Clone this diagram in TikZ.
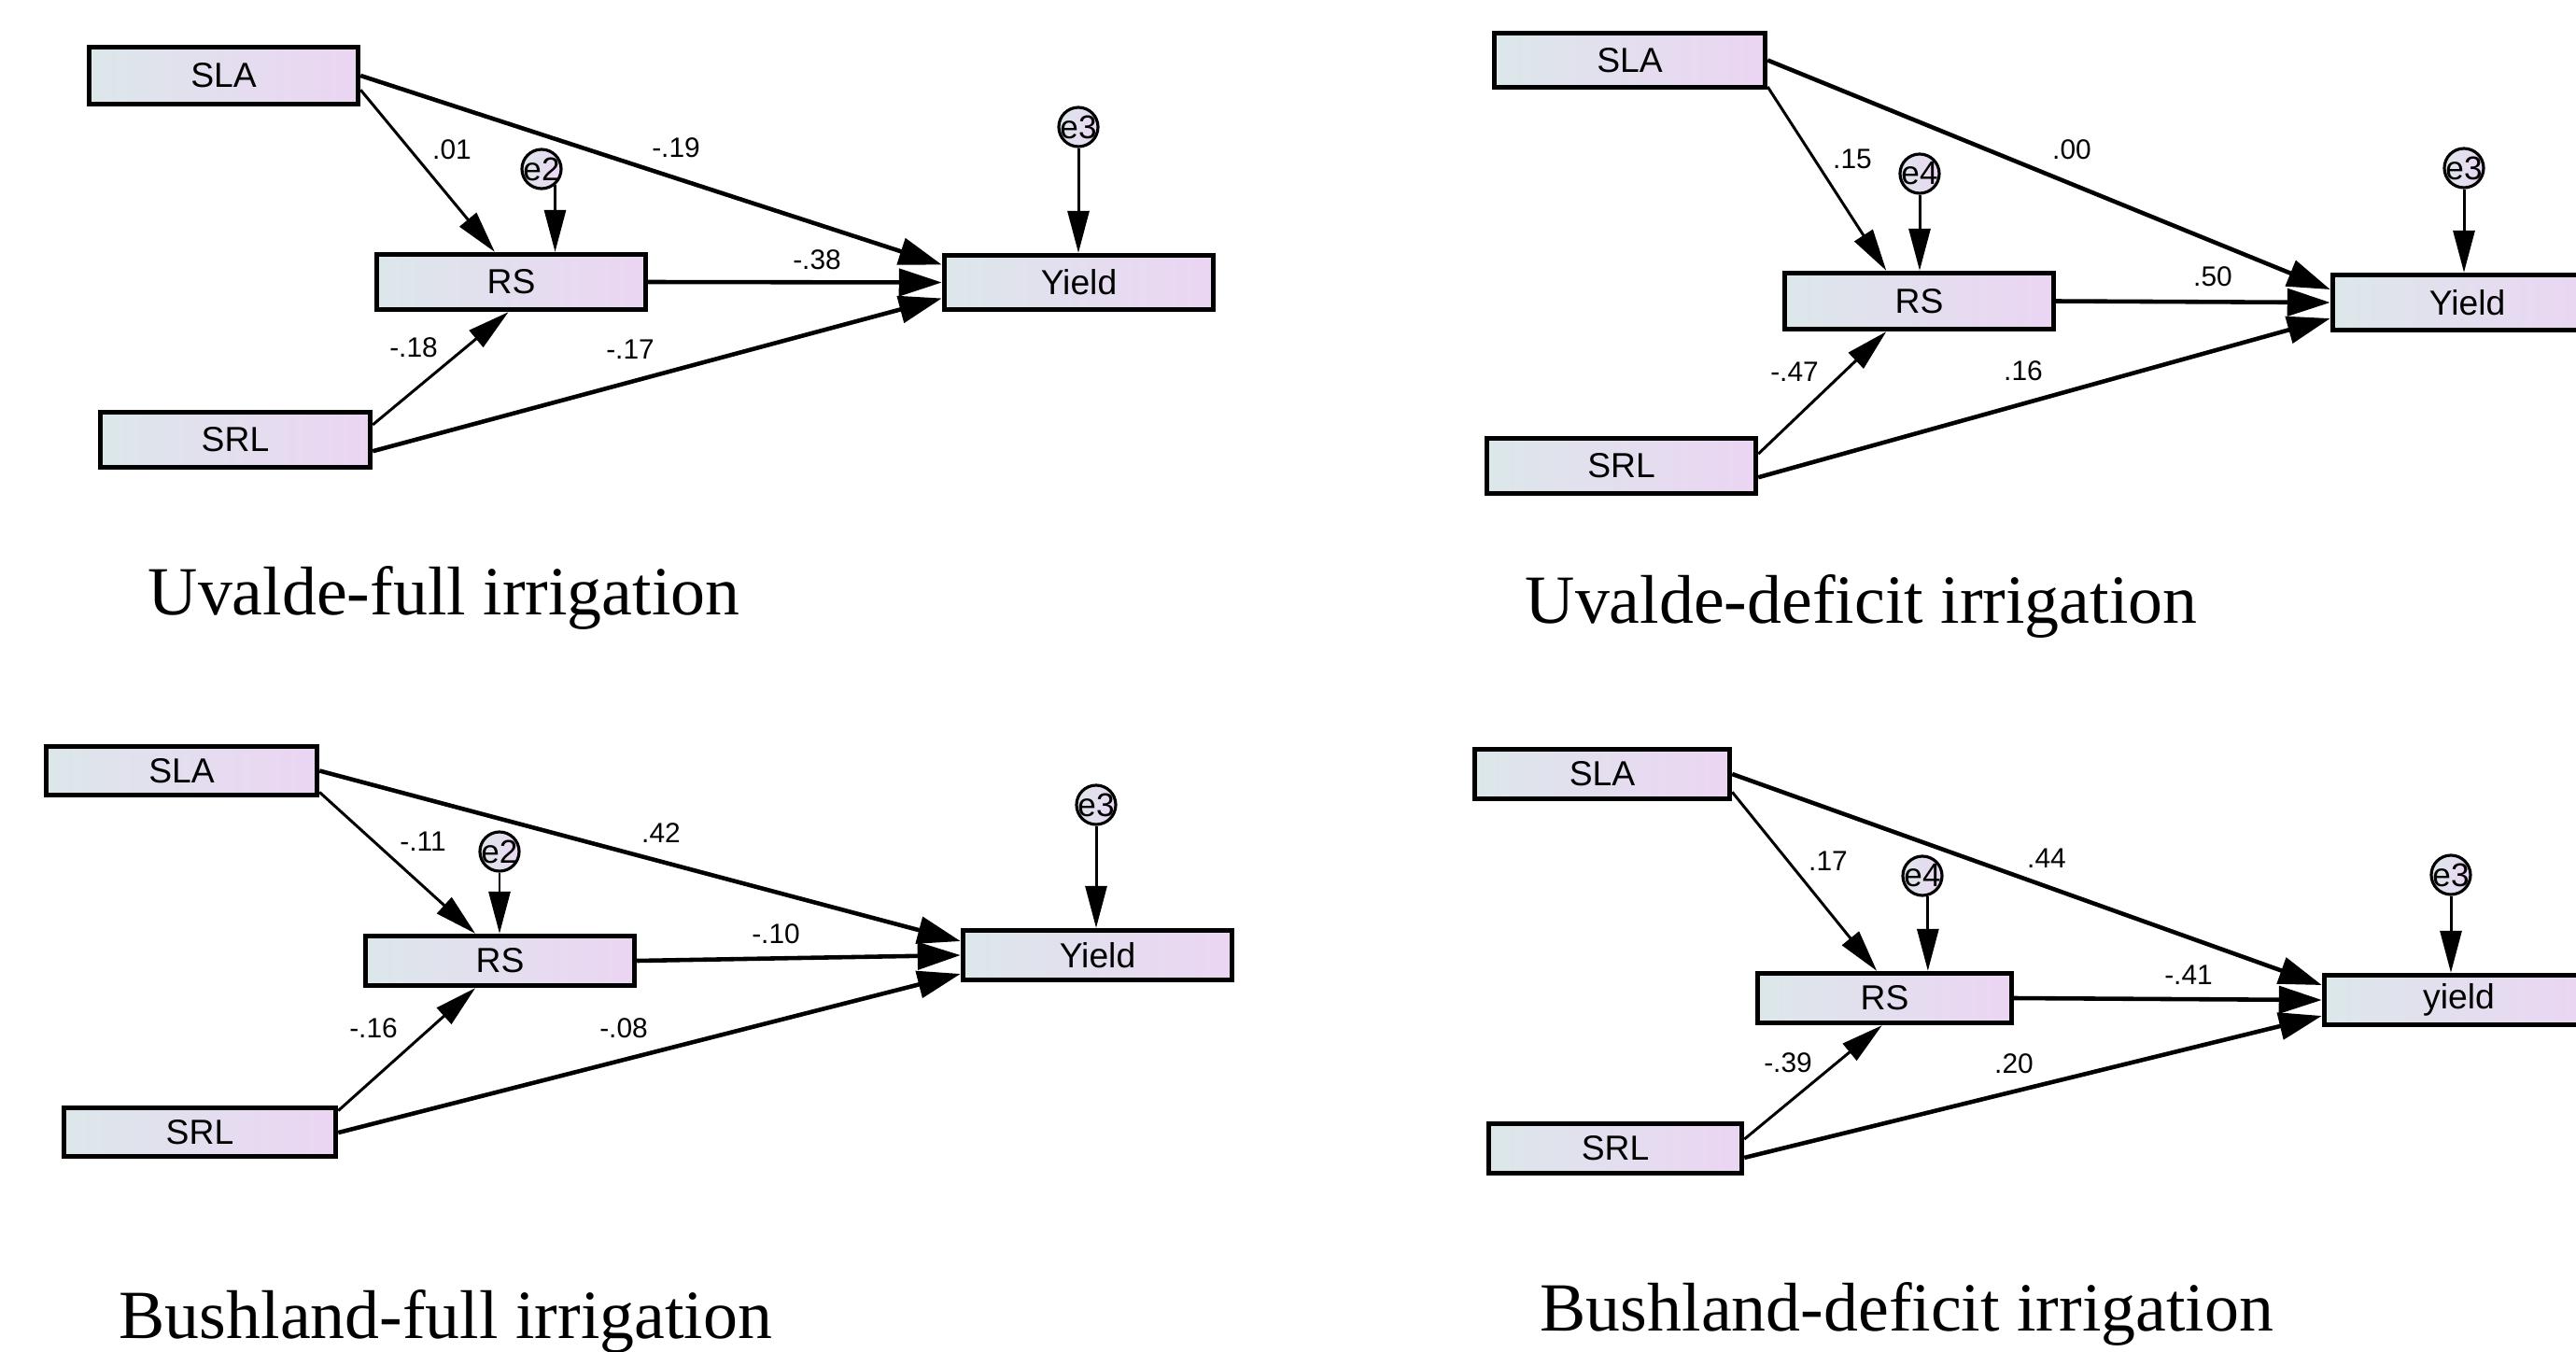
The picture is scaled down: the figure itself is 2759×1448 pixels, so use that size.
\documentclass[tikz,border=0pt]{standalone}
\usepackage{fontspec}
\setmainfont{Liberation Serif}
\setsansfont{Liberation Sans}
\usetikzlibrary{arrows.meta,calc}
\definecolor{boxL}{RGB}{220,231,234}
\definecolor{boxR}{RGB}{235,213,243}
\newcommand{\mybx}[6]{%
  \pgfmathsetmacro{\bxcx}{(#2+#4)/2}%
  \pgfmathsetmacro{\bxcy}{-(#3+#5)/2}%
  \pgfmathsetmacro{\bxw}{(#4-#2-5)/100}%
  \pgfmathsetmacro{\bxh}{(#5-#3-5)/100}%
  \node[box,minimum width=\bxw cm,minimum height=\bxh cm] (#1) at (\bxcx,\bxcy) {#6};}
\begin{document}
\begin{tikzpicture}[x=0.01cm,y=0.01cm,
  box/.style={draw=black,line width=1.5pt,left color=boxL,right color=boxR,inner sep=0pt,
    font=\sffamily\fontsize{10.6}{12}\selectfont},
  ecirc/.style={circle,draw=black,line width=0.9pt,left color=boxL,right color=boxR,inner sep=-0.5pt,
    minimum size=0.42cm,font=\sffamily\fontsize{10}{10}\selectfont},
  thinar/.style={line width=0.85pt,-{Triangle[length=0.45cm,width=0.23cm]}},
  thickar/.style={line width=1.3pt,-{Triangle[length=0.46cm,width=0.29cm]}},
  coef/.style={font=\sffamily\fontsize{8.5}{10}\selectfont,inner sep=0pt},
  captionstyle/.style={font=\rmfamily\fontsize{21}{24}\selectfont,inner sep=0pt,anchor=base west}
]
\useasboundingbox (0,0) rectangle (2759,-1448);
\fill[white] (0,0) rectangle (2759,-1448);

% ---------- top left: Uvalde-full ----------
\mybx{tlSLA}{93}{48}{386}{114}{SLA}
\mybx{tlRS}{401}{270}{694}{334}{RS}
\mybx{tlY}{1009}{271}{1302}{334}{Yield}
\mybx{tlSRL}{105}{439}{399}{503}{SRL}
\node[ecirc] (tle2) at (580,-181) {e2};
\node[ecirc] (tle3) at (1155,-136) {e3};
\draw[thinar] ($(tlSLA.north east)!0.73!(tlSLA.south east)$) -- ($(tlRS.north west)!0.44!(tlRS.north east)$);
\draw[thinar] ($(tlSRL.north east)!0.25!(tlSRL.south east)$) -- ($(tlRS.south west)!0.49!(tlRS.south east)$);
\draw[thinar] (tle2.-50) -- (tle2.-50 |- tlRS.north);
\draw[thinar] (tle3.south) -- (tle3.south |- tlY.north);
\draw[thickar] (tlSLA.east) -- ($(tlY.west)+(0,19)$);
\draw[thickar] (tlRS.east) -- (tlY.west);
\draw[thickar] ($(tlSRL.north east)!0.69!(tlSRL.south east)$) -- ($(tlY.west)+(0,-17)$);
\node[coef] (tlc1) at (484,-160) {.01};
\node[coef] (tlc2) at (724,-158) {-.19};
\node[coef] (tlc3) at (875,-278) {-.38};
\node[coef] (tlc4) at (443,-372) {-.18};
\node[coef] (tlc5) at (675,-374) {-.17};
\node[captionstyle] (tlcap) at (158,-658) {Uvalde-full irrigation};

% ---------- top right: Uvalde-deficit ----------
\mybx{trSLA}{1598}{33}{1893}{96}{SLA}
\mybx{trRS}{1909}{290}{2202}{355}{RS}
\mybx{trY}{2496}{292}{2789}{356}{Yield}
\mybx{trSRL}{1590}{467}{1883}{531}{SRL}
\node[ecirc] (tre4) at (2056,-186) {e4};
\node[ecirc] (tre3) at (2639,-180) {e3};
\draw[thinar] ($(trSLA.north east)!0.95!(trSLA.south east)$) -- ($(trRS.north west)!0.38!(trRS.north east)$);
\draw[thinar] ($(trSRL.north east)!0.3!(trSRL.south east)$) -- ($(trRS.south west)!0.38!(trRS.south east)$);
\draw[thinar] (tre4.south) -- (tre4.south |- trRS.north);
\draw[thinar] (tre3.south) -- (tre3.south |- trY.north);
\draw[thickar] (trSLA.east) -- ($(trY.west)+(0,14)$);
\draw[thickar] (trRS.east) -- (trY.west);
\draw[thickar] ($(trSRL.north east)!0.69!(trSRL.south east)$) -- ($(trY.west)+(0,-17)$);
\node[coef] (trc1) at (1984,-170) {.15};
\node[coef] (trc2) at (2219,-160) {.00};
\node[coef] (trc3) at (2370,-296) {.50};
\node[coef] (trc4) at (1922,-398) {-.47};
\node[coef] (trc5) at (2167,-397) {.16};
\node[captionstyle] (trcap) at (1633,-667) {Uvalde-deficit irrigation};

% ---------- bottom left: Bushland-full ----------
\mybx{blSLA}{47}{797}{342}{854}{SLA}
\mybx{blRS}{389}{1000}{682}{1058}{RS}
\mybx{blY}{1029}{994}{1322}{1052}{Yield}
\mybx{blSRL}{66}{1184}{362}{1241}{SRL}
\node[ecirc] (ble2) at (535,-912) {e2};
\node[ecirc] (ble3) at (1174,-862) {e3};
\draw[thinar] ($(blSLA.north east)!0.9!(blSLA.south east)$) -- ($(blRS.north west)!0.41!(blRS.north east)$);
\draw[thinar] ($(blSRL.north east)!0.1!(blSRL.south east)$) -- ($(blRS.south west)!0.41!(blRS.south east)$);
\draw[thinar] (ble2.south) -- (ble2.south |- blRS.north);
\draw[thinar] (ble3.south) -- (ble3.south |- blY.north);
\draw[thickar] (blSLA.east) -- ($(blY.west)+(0,15)$);
\draw[thickar] (blRS.east) -- (blY.west);
\draw[thickar] ($(blSRL.north east)!0.51!(blSRL.south east)$) -- ($(blY.west)+(0,-20)$);
\node[coef] (blc1) at (453,-901) {-.11};
\node[coef] (blc2) at (708,-892) {.42};
\node[coef] (blc3) at (831,-1000) {-.10};
\node[coef] (blc4) at (400,-1101) {-.16};
\node[coef] (blc5) at (668,-1101) {-.08};
\node[captionstyle] (blcap) at (127,-1433) {Bushland-full irrigation};

% ---------- bottom right: Bushland-deficit ----------
\mybx{brSLA}{1577}{800}{1855}{858}{SLA}
\mybx{brRS}{1880}{1040}{2157}{1098}{RS}
\mybx{brY}{2487}{1042}{2780}{1100}{yield}
\mybx{brSRL}{1592}{1201}{1868}{1259}{SRL}
\node[ecirc] (bre4) at (2059,-938) {e4};
\node[ecirc] (bre3) at (2625,-937) {e3};
\draw[thinar] ($(brSLA.north east)!0.83!(brSLA.south east)$) -- ($(brRS.north west)!0.47!(brRS.north east)$);
\draw[thinar] ($(brSRL.north east)!0.33!(brSRL.south east)$) -- ($(brRS.south west)!0.49!(brRS.south east)$);
\draw[thinar] (bre4.-75) -- (bre4.-75 |- brRS.north);
\draw[thinar] (bre3.south) -- (bre3.south |- brY.north);
\draw[thickar] (brSLA.east) -- ($(brY.west)+(0,16)$);
\draw[thickar] (brRS.east) -- (brY.west);
\draw[thickar] ($(brSRL.north east)!0.67!(brSRL.south east)$) -- ($(brY.west)+(0,-17)$);
\node[coef] (brc1) at (1958,-922) {.17};
\node[coef] (brc2) at (2192,-919) {.44};
\node[coef] (brc3) at (2344,-1044) {-.41};
\node[coef] (brc4) at (1915,-1138) {-.39};
\node[coef] (brc5) at (2157,-1139) {.20};
\node[captionstyle] (brcap) at (1649,-1425) {Bushland-deficit irrigation};
\end{tikzpicture}
\end{document}
